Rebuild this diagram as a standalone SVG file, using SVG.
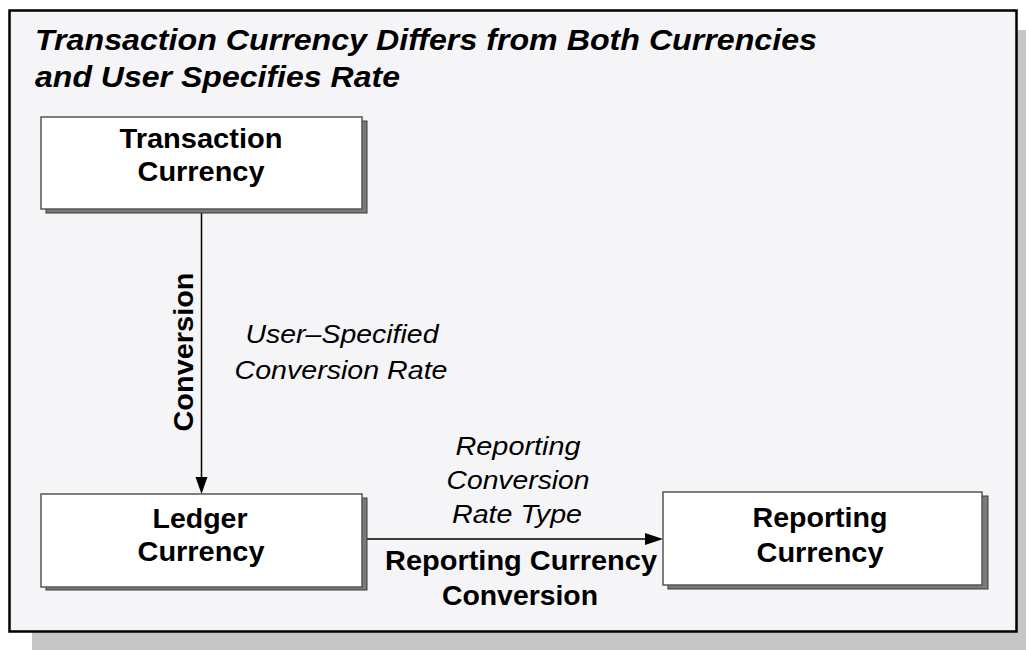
<svg xmlns="http://www.w3.org/2000/svg" width="1026" height="650" viewBox="0 0 1026 650">
<defs>
<style>
.bold{font-family:"Liberation Sans",Arial,sans-serif;font-weight:bold;font-size:28px;fill:#000;text-anchor:middle}
.ital{font-family:"Liberation Sans",Arial,sans-serif;font-style:italic;font-size:25px;fill:#000;text-anchor:middle}
.title{font-family:"Liberation Sans",Arial,sans-serif;font-style:italic;font-weight:bold;font-size:30px;fill:#000}
.box{fill:#fff;stroke:#555;stroke-width:1.5}
.shadow{fill:#7a7a7a;stroke:#3a3a3a;stroke-width:1}
.conn{stroke:#000;stroke-width:1.5;fill:none}
.head{fill:#000}
</style>
</defs>
<rect x="0" y="0" width="1026" height="650" fill="#fff"/>
<rect x="32" y="30" width="994" height="620" fill="#c6c6c6"/>
<rect x="9.5" y="10.5" width="1007" height="621" fill="#f5f4f7" stroke="#000" stroke-width="2.5"/>
<g id="title">
<text class="title" x="35" y="50" textLength="782" lengthAdjust="spacingAndGlyphs">Transaction Currency Differs from Both Currencies</text>
<text class="title" x="35" y="87" textLength="365" lengthAdjust="spacingAndGlyphs">and User Specifies Rate</text>
</g>
<g id="connectors">
<line class="conn" x1="201.5" y1="209" x2="201.5" y2="478"/>
<polygon class="head" points="195.5,477 207.5,477 201.5,494"/>
<line class="conn" x1="367" y1="539" x2="646" y2="539"/>
<polygon class="head" points="645,533 645,545 663,539"/>
<text class="bold" transform="translate(193,352) rotate(-90)" textLength="159" lengthAdjust="spacingAndGlyphs">Conversion</text>
<text class="ital" x="342" y="343" textLength="193" lengthAdjust="spacingAndGlyphs">User–Specified</text>
<text class="ital" x="341" y="379" textLength="213" lengthAdjust="spacingAndGlyphs">Conversion Rate</text>
<text class="ital" x="518" y="455" textLength="125" lengthAdjust="spacingAndGlyphs">Reporting</text>
<text class="ital" x="518" y="489" textLength="143" lengthAdjust="spacingAndGlyphs">Conversion</text>
<text class="ital" x="517" y="523" textLength="130" lengthAdjust="spacingAndGlyphs">Rate Type</text>
<text class="bold" x="521" y="570" textLength="272" lengthAdjust="spacingAndGlyphs">Reporting Currency</text>
<text class="bold" x="520" y="605" textLength="156" lengthAdjust="spacingAndGlyphs">Conversion</text>
</g>
<g id="transaction">
<rect class="shadow" x="46" y="121" width="321" height="92"/>
<rect class="box" x="41" y="117" width="321" height="92"/>
<text class="bold" x="201" y="148" textLength="163" lengthAdjust="spacingAndGlyphs">Transaction</text>
<text class="bold" x="201" y="181" textLength="127" lengthAdjust="spacingAndGlyphs">Currency</text>
</g>
<g id="ledger">
<rect class="shadow" x="46" y="498" width="321" height="92"/>
<rect class="box" x="41" y="494" width="321" height="93"/>
<text class="bold" x="200" y="528" textLength="95" lengthAdjust="spacingAndGlyphs">Ledger</text>
<text class="bold" x="201" y="561" textLength="127" lengthAdjust="spacingAndGlyphs">Currency</text>
</g>
<g id="reporting">
<rect class="shadow" x="668" y="496" width="320" height="93"/>
<rect class="box" x="663" y="492" width="319" height="93"/>
<text class="bold" x="820" y="527" textLength="135" lengthAdjust="spacingAndGlyphs">Reporting</text>
<text class="bold" x="820" y="562" textLength="127" lengthAdjust="spacingAndGlyphs">Currency</text>
</g>
</svg>
